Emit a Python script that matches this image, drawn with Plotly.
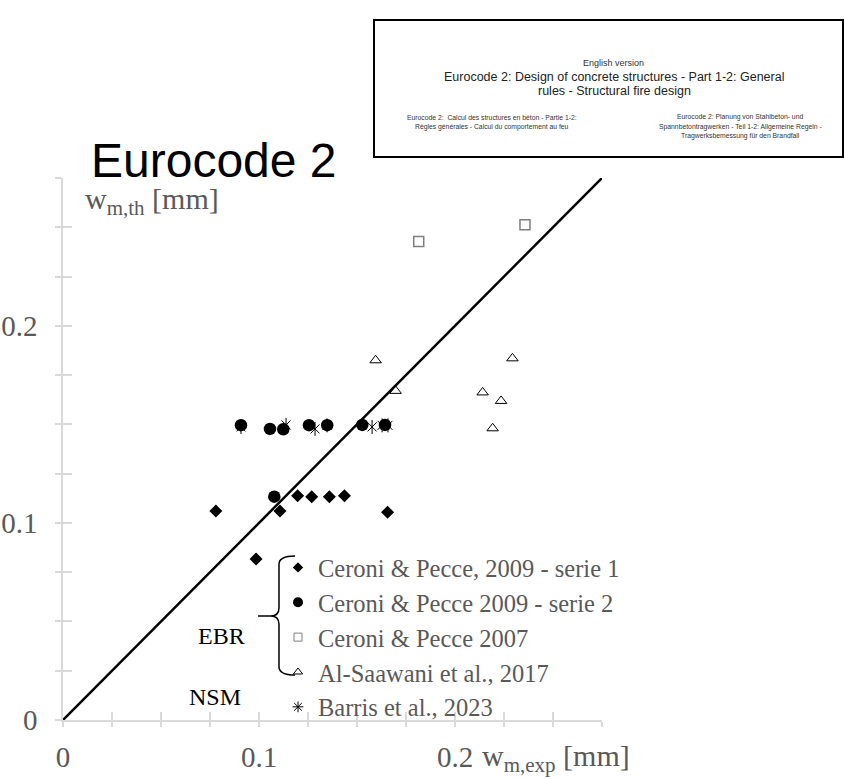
import plotly.graph_objects as go

# ---- data: measured (w_m,exp) vs predicted (w_m,th) crack widths [mm] ----
s1_name = "Ceroni & Pecce, 2009 - serie 1"
s1_exp = [0.078, 0.0985, 0.1107, 0.1197, 0.1269, 0.1359, 0.1436, 0.1656]
s1_th = [0.106, 0.0817, 0.106, 0.1138, 0.1133, 0.1133, 0.1138, 0.1054]

s2_name = "Ceroni & Pecce 2009 - serie 2"
s2_exp = [0.0908, 0.1056, 0.1078, 0.1124, 0.1255, 0.1348, 0.1527, 0.1643]
s2_th = [0.1496, 0.1477, 0.1133, 0.1475, 0.1496, 0.1496, 0.1497, 0.1497]

s3_name = "Ceroni & Pecce 2007"
s3_exp = [0.1815, 0.2357]
s3_th = [0.2428, 0.2513]

s4_name = "Al-Saawani et al., 2017"
s4_exp = [0.1595, 0.1697, 0.2141, 0.2192, 0.2235, 0.2293]
s4_th = [0.1825, 0.167, 0.1662, 0.148, 0.1619, 0.1835]

s5_name = "Barris et al., 2023"
s5_exp = [0.0908, 0.1138, 0.1286, 0.1347, 0.1577, 0.1628, 0.1658]
s5_th = [0.1487, 0.1497, 0.1477, 0.1495, 0.1487, 0.1495, 0.1495]

# equality line w_m,th = w_m,exp
bisector = [0, 0.275]

axis_range = [0, 0.275]
tick_vals = [0, 0.025, 0.05, 0.075, 0.1, 0.125, 0.15, 0.175, 0.2, 0.225, 0.25, 0.275]
tick_text = ["0", "", "", "", "0.1", "", "", "", "0.2", "", "", ""]

SERIF = "Liberation Serif, Times New Roman, serif"
SANS = "Liberation Sans, Arial, sans-serif"
GREY_TXT = "#595959"
AXIS_GREY = "#d9d9d9"

# plot-area geometry (pixels) used to place decorations in paper space
L, R, T, B = 63, 602, 178, 720


def px_x(px):
    return (px - L) / (R - L)


def px_y(py):
    return (B - py) / (B - T)


fig = go.Figure()

fig.add_trace(go.Scatter(x=bisector, y=bisector, mode="lines",
                         line=dict(color="black", width=2.5),
                         showlegend=False, hoverinfo="skip"))

fig.add_trace(go.Scatter(x=s1_exp, y=s1_th, mode="markers", showlegend=False,
                         marker=dict(symbol="diamond", size=10, color="black")))
fig.add_trace(go.Scatter(x=s2_exp, y=s2_th, mode="markers", showlegend=False,
                         marker=dict(symbol="circle", size=12.5, color="black")))
fig.add_trace(go.Scatter(x=s3_exp, y=s3_th, mode="markers", showlegend=False,
                         marker=dict(symbol="square-open", size=10, color="#7f7f7f",
                                     line=dict(width=1.5))))
fig.add_trace(go.Scatter(x=s4_exp, y=s4_th, mode="markers", showlegend=False,
                         marker=dict(symbol="triangle-up-open", size=10, color="black",
                                     line=dict(width=1))))
# star marker: an "x" crossed by a vertical stroke
fig.add_trace(go.Scatter(x=s5_exp, y=s5_th, mode="markers", showlegend=False,
                         marker=dict(symbol="x-thin-open", size=9, color="black",
                                     line=dict(width=1, color="black"))))
fig.add_trace(go.Scatter(x=s5_exp, y=s5_th, mode="markers", showlegend=False,
                         marker=dict(symbol="line-ns-open", size=10, color="black",
                                     line=dict(width=1, color="black"))))

# legend entries (smaller symbols than the plotted points)
legend_items = [
    (s1_name, dict(symbol="diamond", size=8, color="black")),
    (s2_name, dict(symbol="circle", size=10, color="black")),
    (s3_name, dict(symbol="square-open", size=8, color="#7f7f7f", line=dict(width=1))),
    (s4_name, dict(symbol="triangle-up-open", size=8, color="black", line=dict(width=1))),
    (s5_name, dict(symbol="asterisk-open", size=9, color="black",
                   line=dict(width=1, color="black"))),
]
for name, mk in legend_items:
    fig.add_trace(go.Scatter(x=[None], y=[None], mode="markers", name=name, marker=mk))

# empty trace so the overlay axes (inner tick halves) get drawn
fig.add_trace(go.Scatter(x=[None], y=[None], xaxis="x2", yaxis="y2",
                         showlegend=False, hoverinfo="skip"))

axis_common = dict(range=axis_range, showgrid=False, zeroline=False,
                   tickmode="array", tickvals=tick_vals, automargin=False,
                   tickcolor=AXIS_GREY, tickwidth=1.5)

fig.update_layout(
    width=844, height=779,
    margin=dict(l=L, r=844 - R, t=T, b=779 - B, autoexpand=False),
    plot_bgcolor="white", paper_bgcolor="white",
    font=dict(family=SERIF, color=GREY_TXT),
    xaxis=dict(**axis_common, ticktext=tick_text, ticks="outside", ticklen=5,
               showline=True, linecolor=AXIS_GREY, linewidth=1.5,
               tickfont=dict(family=SERIF, size=29, color=GREY_TXT),
               ticklabelstandoff=5),
    yaxis=dict(**axis_common, ticktext=tick_text, ticks="outside", ticklen=6,
               showline=True, linecolor=AXIS_GREY, linewidth=1.5,
               tickfont=dict(family=SERIF, size=29, color=GREY_TXT),
               ticklabelstandoff=12),
    xaxis2=dict(**axis_common, overlaying="x", anchor="y", side="bottom",
                ticks="inside", ticklen=8, showticklabels=False, showline=False),
    yaxis2=dict(**axis_common, overlaying="y", anchor="x", side="left",
                ticks="inside", ticklen=9, showticklabels=False, showline=False),
    legend=dict(x=px_x(278), y=px_y(545), xanchor="left", yanchor="top",
                bgcolor="rgba(0,0,0,0)", borderwidth=0,
                font=dict(family=SERIF, size=24.5, color=GREY_TXT),
                itemsizing="trace"),
)

# brace grouping the EBR tests
brace = ("M 0.1184 0.0832 Q 0.1102 0.0832 0.1102 0.0790 L 0.1102 0.0570 "
         "Q 0.1102 0.0528 0.1060 0.0528 L 0.0995 0.0528 "
         "M 0.1060 0.0528 Q 0.1102 0.0528 0.1102 0.0486 L 0.1102 0.0270 "
         "Q 0.1102 0.0228 0.1184 0.0228")
fig.add_shape(type="path", path=brace, xref="x", yref="y",
              line=dict(color="black", width=1.5))

# frame of the Eurocode cover excerpt
fig.add_shape(type="rect", xref="paper", yref="paper",
              x0=px_x(374), x1=px_x(843), y0=px_y(157), y1=px_y(20),
              line=dict(color="black", width=2), fillcolor="white")

annotations = [
    dict(text="Eurocode 2", x=px_x(214), y=px_y(160), size=48, family=SANS, color="black"),
    dict(text="English version", x=px_x(613), y=px_y(63), size=9, family=SANS, color="#333333"),
    dict(text="Eurocode 2: Design of concrete structures - Part 1-2: General",
         x=px_x(614), y=px_y(77), size=12.5, family=SANS, color="#222222"),
    dict(text="rules - Structural fire design",
         x=px_x(614), y=px_y(91), size=12.5, family=SANS, color="#222222"),
    dict(text="Eurocode 2:  Calcul des structures en béton - Partie 1-2:",
         x=px_x(492), y=px_y(117), size=6.8, family=SANS, color="#333333"),
    dict(text="Règles générales - Calcul du comportement au feu",
         x=px_x(492), y=px_y(127), size=6.8, family=SANS, color="#333333"),
    dict(text="Eurocode 2: Planung von Stahlbeton- und",
         x=px_x(740), y=px_y(117), size=6.8, family=SANS, color="#333333"),
    dict(text="Spannbetontragwerken - Teil 1-2: Allgemeine Regeln -",
         x=px_x(740), y=px_y(127), size=6.8, family=SANS, color="#333333"),
    dict(text="Tragwerksbemessung für den Brandfall",
         x=px_x(740), y=px_y(136), size=6.8, family=SANS, color="#333333"),
]
for a in annotations:
    fig.add_annotation(text=a["text"], x=a["x"], y=a["y"], xref="paper", yref="paper",
                       xanchor="center", yanchor="middle", showarrow=False,
                       font=dict(family=a["family"], size=a["size"], color=a["color"]))

# axis titles
fig.add_annotation(text="w<sub>m,th</sub> [mm]", x=px_x(83), y=px_y(201),
                   xref="paper", yref="paper", xanchor="left", yanchor="middle",
                   showarrow=False, font=dict(family=SERIF, size=30, color=GREY_TXT))
fig.add_annotation(text="w<sub>m,exp</sub> [mm]", x=px_x(480), y=px_y(758),
                   xref="paper", yref="paper", xanchor="left", yanchor="middle",
                   showarrow=False, font=dict(family=SERIF, size=30, color=GREY_TXT))

# group labels
fig.add_annotation(text="EBR", x=0.0809, y=0.0426, xref="x", yref="y",
                   showarrow=False, font=dict(family=SERIF, size=24, color="black"))
fig.add_annotation(text="NSM", x=0.0776, y=0.0118, xref="x", yref="y",
                   showarrow=False, font=dict(family=SERIF, size=24, color="black"))

fig.write_html("out.html")
